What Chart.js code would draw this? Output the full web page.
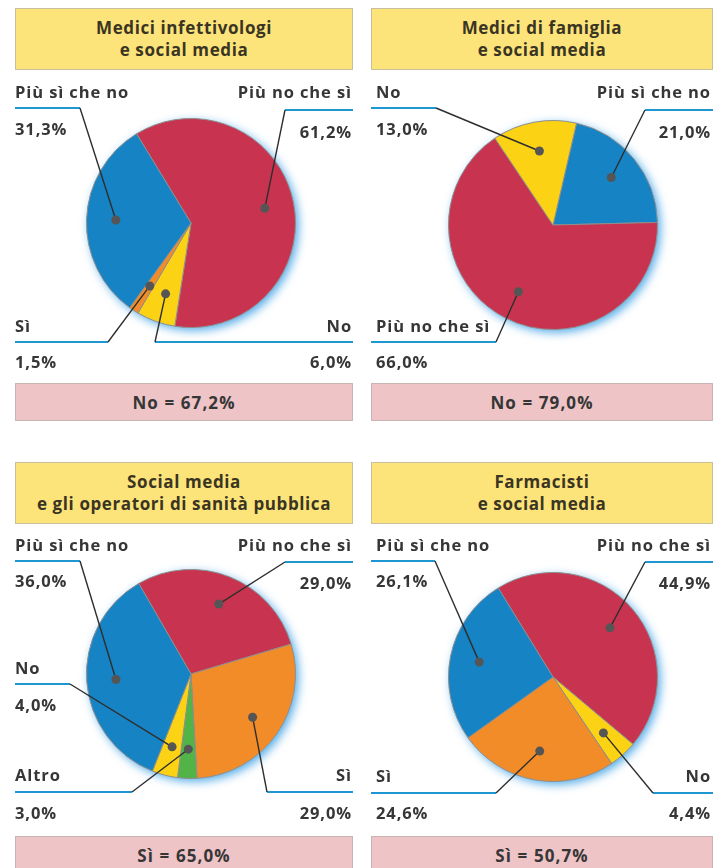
<!DOCTYPE html>
<html>
<head>
<meta charset="utf-8">
<script src="https://cdn.jsdelivr.net/npm/chart.js@4.4.1/dist/chart.umd.min.js"></script>
<style>
body{margin:0;background:#fff;font-family:"Open Sans",Lato,sans-serif;}
#page{position:relative;width:726px;height:868px;overflow:hidden;background:#fff;}
.panel{position:absolute;width:363px;height:434px;overflow:hidden;}
.panel canvas{position:absolute;left:0;top:0;}
.title{position:absolute;height:62px;background:#fde47a;border:1px solid #c8c09c;box-sizing:border-box;
  display:flex;align-items:center;justify-content:center;text-align:center;white-space:pre-line;
  font-weight:700;font-size:17px;letter-spacing:0.6px;line-height:22px;color:#3a3522;}
.sum{position:absolute;height:38px;background:#eec4c6;border:1px solid #c9b4b4;box-sizing:border-box;
  display:flex;align-items:center;justify-content:center;font-weight:700;font-size:17px;letter-spacing:1.1px;color:#363636;}
.lbl{position:absolute;font-weight:700;font-size:16.5px;letter-spacing:0.9px;line-height:20px;color:#363636;white-space:nowrap;}
</style>
</head>
<body>
<div id="page"></div>
<script>
// data
const titles = ["Medici infettivologi\ne social media", "Medici di famiglia\ne social media",
                "Social media\ne gli operatori di sanità pubblica", "Farmacisti\ne social media"];
const summaries = ["No = 67,2%", "No = 79,0%", "Sì = 65,0%", "Sì = 50,7%"];

const labels1 = ["Più no che sì", "No", "Sì", "Più sì che no"];
const values1 = [61.2, 6.0, 1.5, 31.3];
const labels2 = ["Più sì che no", "Più no che sì", "No"];
const values2 = [21.0, 66.0, 13.0];
const labels3 = ["Più no che sì", "Sì", "Altro", "No", "Più sì che no"];
const values3 = [29.0, 29.0, 3.0, 4.0, 36.0];
const labels4 = ["Più no che sì", "No", "Sì", "Più sì che no"];
const values4 = [44.9, 4.4, 24.6, 26.1];

// style
const colorOf = {
    "Più no che sì": "#c8344f",
    "Più sì che no": "#1683c4",
    "No": "#fcd215",
    "Sì": "#f28c28",
    "Altro": "#52b447"
};

// layout per panel: pie box, boxes, label slots (side, name y, underline y, underline inner x, value y)
const panels = [
    { left:0, top:0, labels:labels1, values:values1, rotation:-31.4,
      pad:{left:86,right:67,top:118,bottom:106}, edge:[15,353], titleY:8, sumY:383,
      slots:[["r",93,110,285,133],["r",327,342,155,363],["l",327,342,108,363],["l",93,108,80,130]] },
    { left:363, top:0, labels:labels2, values:values2, rotation:13,
      pad:{left:85,right:68,top:120,bottom:104}, edge:[8,350], titleY:8, sumY:383,
      slots:[["r",93,110,282,133],["l",327,342,133,363],["l",93,108,73,130]] },
    { left:0, top:434, labels:labels3, values:values3, rotation:-30,
      pad:{left:86,right:67,top:135,bottom:89}, edge:[15,353], titleY:28, sumY:402,
      slots:[["r",112,128,285,150],["r",342,358,267,380],["l",342,358,132,380],["l",235,250,70,272],["l",112,127,80,148]] },
    { left:363, top:434, labels:labels4, values:values4, rotation:-31.6,
      pad:{left:85,right:68,top:138,bottom:86}, edge:[8,350], titleY:28, sumY:402,
      slots:[["r",112,128,282,150],["r",343,359,290,380],["l",343,359,133,380],["l",112,127,72,148]] }
];

const fmt = v => v.toFixed(1).replace(".", ",") + "%";

const glowPlugin = {
    id: "glow",
    beforeDatasetsDraw(chart){
        const arc = chart.getDatasetMeta(0).data[0];
        if(!arc) return;
        const ctx = chart.ctx;
        ctx.save();
        ctx.shadowColor = "rgba(40,150,225,0.8)";
        ctx.shadowBlur = 10;
        ctx.shadowOffsetX = 3;
        ctx.shadowOffsetY = 3;
        ctx.fillStyle = "#9ccdef";
        ctx.beginPath();
        ctx.arc(arc.x, arc.y, arc.outerRadius, 0, Math.PI*2);
        ctx.fill();
        ctx.restore();
    }
};

const leaderPlugin = {
    id: "leaders",
    afterDatasetsDraw(chart, args, opts){
        const ctx = chart.ctx;
        const [x0, x1] = opts.edge;
        chart.getDatasetMeta(0).data.forEach((arc, i)=>{
            const s = opts.slots[i];
            const mid = (arc.startAngle + arc.endAngle)/2;
            const dx = arc.x + Math.cos(mid)*arc.outerRadius*0.72;
            const dy = arc.y + Math.sin(mid)*arc.outerRadius*0.72;
            // underline
            ctx.strokeStyle = "#1e96d2";
            ctx.lineWidth = 2;
            ctx.beginPath();
            if(s[0]==="l"){ ctx.moveTo(x0, s[2]); ctx.lineTo(s[3], s[2]); }
            else { ctx.moveTo(s[3], s[2]); ctx.lineTo(x1, s[2]); }
            ctx.stroke();
            // leader
            ctx.strokeStyle = "#2e2e2e";
            ctx.lineWidth = 1.4;
            ctx.beginPath();
            ctx.moveTo(s[3], s[2]);
            ctx.lineTo(dx, dy);
            ctx.stroke();
            // dot
            ctx.fillStyle = "#555";
            ctx.beginPath();
            ctx.arc(dx, dy, 4.5, 0, Math.PI*2);
            ctx.fill();
        });
    }
};

const page = document.getElementById("page");

panels.forEach((p, k)=>{
    const div = document.createElement("div");
    div.className = "panel";
    div.style.left = p.left + "px";
    div.style.top = p.top + "px";
    page.appendChild(div);

    const cv = document.createElement("canvas");
    cv.width = 363; cv.height = 434;
    div.appendChild(cv);

    const [x0, x1] = p.edge;
    const t = document.createElement("div");
    t.className = "title";
    t.style.left = x0 + "px"; t.style.width = (x1 - x0) + "px"; t.style.top = p.titleY + "px";
    t.textContent = titles[k];
    div.appendChild(t);

    const sm = document.createElement("div");
    sm.className = "sum";
    sm.style.left = x0 + "px"; sm.style.width = (x1 - x0) + "px"; sm.style.top = p.sumY + "px";
    sm.textContent = summaries[k];
    div.appendChild(sm);

    const textL = x0 === 8 ? 13 : 15;
    const textR = x0 === 8 ? 348 : 352;
    p.labels.forEach((name, i)=>{
        const s = p.slots[i];
        [[name, s[1]], [fmt(p.values[i]), s[4]]].forEach(([txt, y])=>{
            const el = document.createElement("div");
            el.className = "lbl";
            el.textContent = txt;
            el.style.top = (y - 11) + "px";
            if(s[0]==="l") el.style.left = textL + "px";
            else el.style.right = (363 - textR) + "px";
            div.appendChild(el);
        });
    });

    new Chart(cv.getContext("2d"), {
        type: "pie",
        data: {
            labels: p.labels,
            datasets: [{
                data: p.values,
                backgroundColor: p.labels.map(n=> colorOf[n]),
                borderColor: "#8e8e8e",
                borderWidth: 1
            }]
        },
        options: {
            responsive: false,
            animation: false,
            rotation: p.rotation,
            layout: { padding: p.pad },
            plugins: {
                legend: { display:false },
                tooltip: { enabled:false },
                leaders: { slots: p.slots, edge: p.edge }
            }
        },
        plugins: [glowPlugin, leaderPlugin]
    });
});
</script>
</body>
</html>
